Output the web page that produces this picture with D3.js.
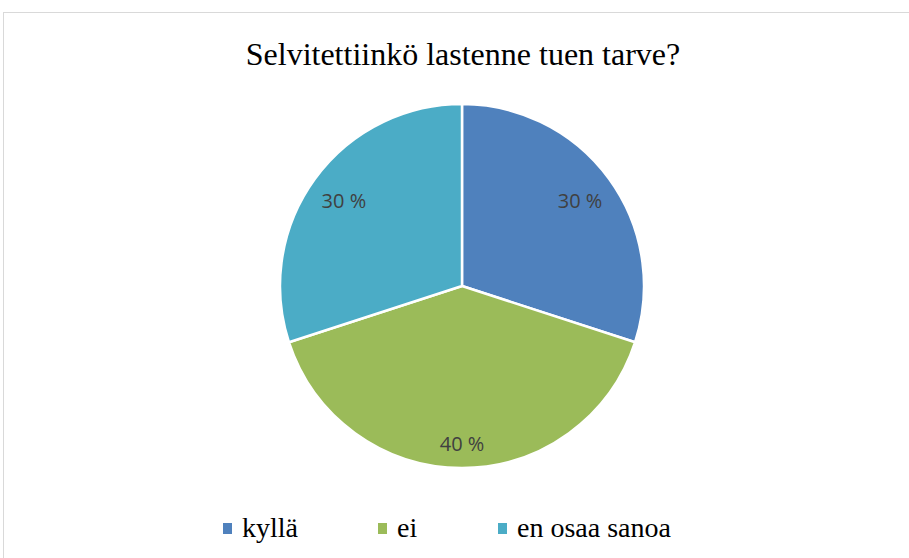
<!DOCTYPE html>
<html><head><meta charset="utf-8">
<script src="https://cdn.jsdelivr.net/npm/d3@7"></script>
<style>body{margin:0;background:#fff}svg{display:block}
.serif{font-family:"Liberation Serif","Times New Roman",serif}
.lab{font-family:"Open Sans","Liberation Sans",sans-serif}</style>
</head><body>
<svg id="c" width="909" height="558"></svg>
<script>
const title = "Selvitettiinkö lastenne tuen tarve?";
const categories = ["kyllä", "ei", "en osaa sanoa"];
const values = [30, 40, 30];
const colors = ["#4F81BD", "#9BBB59", "#4BACC6"];

const svg = d3.select("#c");
svg.append("rect").attr("x",3.5).attr("y",12.5).attr("width",910).attr("height",560)
  .attr("fill","#fff").attr("stroke","#d9d9d9").attr("stroke-width",1);

svg.append("text").attr("class","serif").attr("x",463).attr("y",65).attr("text-anchor","middle")
  .attr("font-size",32).attr("fill","#000").text(title);

const cx = 462, cy = 286, r = 182;
const pie = d3.pie().sort(null).value(d=>d)(values);
const arc = d3.arc().innerRadius(0).outerRadius(r);
const g = svg.append("g").attr("transform",`translate(${cx},${cy})`);
g.selectAll("path").data(pie).join("path").attr("d",arc)
  .attr("fill",(d,i)=>colors[i]).attr("stroke","#fff").attr("stroke-width",2.5).attr("stroke-linejoin","round");

const fmt = v => v + " %";
const total = d3.sum(values);
g.selectAll("text.lab").data(pie).join("text").attr("class","lab")
  .attr("font-size",20).attr("fill","#404040")
  .attr("text-anchor","middle").attr("dominant-baseline","central")
  .text(d=>fmt(Math.round(d.data/total*100)))
  .each(function(d){
    const bb = this.getBBox(); const hw = bb.width/2, hh = bb.height/2;
    const a = (d.startAngle+d.endAngle)/2; const ux = Math.sin(a), uy = -Math.cos(a);
    const target = r - 10;
    let dist = 0;
    for (let s = 0; s < r; s += 0.5) {
      const x = ux*s, y = uy*s;
      const fx = Math.abs(x)+hw, fy = Math.abs(y)+hh;
      if (Math.hypot(fx,fy) > target) break;
      dist = s;
    }
    d3.select(this).attr("x",ux*dist).attr("y",uy*dist);
  });

const lx = [223, 378, 498];
const lg = svg.append("g");
categories.forEach((c,i)=>{
  lg.append("rect").attr("x",lx[i]).attr("y",523).attr("width",9).attr("height",11).attr("fill",colors[i]);
  lg.append("text").attr("class","serif").attr("x",lx[i]+19).attr("y",537).attr("font-size",28).attr("fill","#000").text(c);
});
</script>
</body></html>
